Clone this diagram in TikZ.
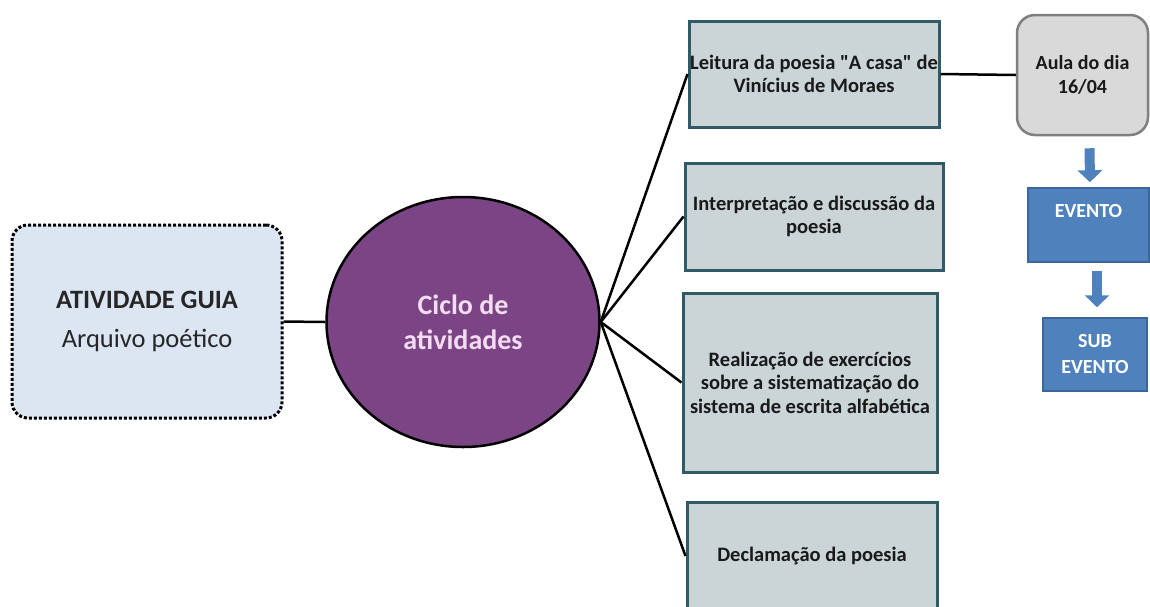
\documentclass[tikz,border=0pt]{standalone}
\usepackage{fontspec}
\setmainfont{Carlito}
\usetikzlibrary{arrows.meta,shapes.geometric}
\usepackage{xcolor}
\definecolor{guiaFill}{HTML}{DCE6F2}
\definecolor{cicloFill}{HTML}{7B4585}
\definecolor{cicloText}{HTML}{F4DDF2}
\definecolor{actFill}{HTML}{CBD5D8}
\definecolor{actStroke}{HTML}{2F5A66}
\definecolor{aulaFill}{HTML}{D9D9D9}
\definecolor{aulaStroke}{HTML}{7F7F7F}
\definecolor{eventFill}{HTML}{4F81BD}
\definecolor{eventStroke}{HTML}{3B6699}
\colorlet{wireColor}{black}
\newcommand{\BoxFont}{\fontsize{20.5}{23.5}\selectfont\bfseries}
\newcommand{\EventFont}{\fontsize{20}{26}\selectfont\bfseries}

\begin{document}
\begin{tikzpicture}[
  x=1pt,y=-1pt,
  guia/.style={draw=black,line width=3pt,dotted,rounded corners=16pt,fill=guiaFill,
    minimum width=270pt,minimum height=193pt,align=center,inner sep=0pt,
    font=\fontsize{26.5}{39}\selectfont,text=black!85},
  ciclo/.style={ellipse,draw=black,line width=2.5pt,fill=cicloFill,text=cicloText,
    minimum width=273pt,minimum height=250pt,inner sep=0pt,align=center,
    font=\fontsize{28}{35}\selectfont\bfseries},
  actbox/.style={rectangle,draw=actStroke,line width=3pt,fill=actFill,align=center,
    inner sep=0pt,font=\BoxFont,text=black!90},
  aulabox/.style={rectangle,rounded corners=18pt,draw=aulaStroke,line width=2.5pt,
    fill=aulaFill,align=center,inner sep=0pt,
    font=\fontsize{20}{23.5}\selectfont\bfseries,text=black!90,
    minimum width=131pt,minimum height=120pt},
  eventbox/.style={rectangle,draw=eventStroke,line width=1.5pt,fill=eventFill,
    align=center,inner sep=0pt,font=\EventFont,text=white},
  wire/.style={wireColor,line width=2.5pt},
  blockarrow/.style={eventFill,line width=10pt,-{Triangle[width=24pt,length=12pt]}}
]
\useasboundingbox (0,0) rectangle (1150,606);

% Guide activity and cycle
\node[guia] (guia) at (147,321.5) {\textbf{ATIVIDADE GUIA}\\Arquivo poético};
\node[ciclo] (ciclo) at (463,322) {Ciclo de\\atividades};

% Activities
\node[actbox,minimum width=250pt,minimum height=106pt] (act1) at (814,74)
  {Leitura da poesia \textquotedbl A casa\textquotedbl\ de\\Vinícius de Moraes};
\node[actbox,minimum width=258pt,minimum height=107pt] (act2) at (814,216.5)
  {Interpretação e discussão da\\poesia};
\node[actbox,minimum width=254pt,minimum height=179pt] (act3) at (810,382.5)
  {Realização de exercícios\\sobre a sistematização do\\sistema de escrita alfabética};
\node[actbox,minimum width=250pt,minimum height=108pt] (act4) at (812,556)
  {Declamação da poesia};

% Event chain
\node[aulabox] (aula) at (1082.5,75) {Aula do dia\\16/04};
\node[eventbox,minimum width=121pt,minimum height=74pt] (evento) at (1088.5,225)
  {EVENTO\\[-6pt]\strut};
\node[eventbox,minimum width=104pt,minimum height=73pt] (sub) at (1095,354.5)
  {SUB\\EVENTO};

% Connections
\draw[wire] (guia.east) -- (ciclo.west);
\foreach \i in {1,...,4}{
  \draw[wire] (ciclo.east) -- (act\i.west);
}
\draw[wire] (act1.east) -- (aula.west);

% Block arrows
\draw[blockarrow] ([xshift=7pt,yshift=-12pt]aula.south) -- ([xshift=1.5pt,yshift=5pt]evento.north);
\draw[blockarrow] ([xshift=8.5pt,yshift=-8pt]evento.south) -- ([xshift=2pt,yshift=10pt]sub.north);

\end{tikzpicture}
\end{document}
